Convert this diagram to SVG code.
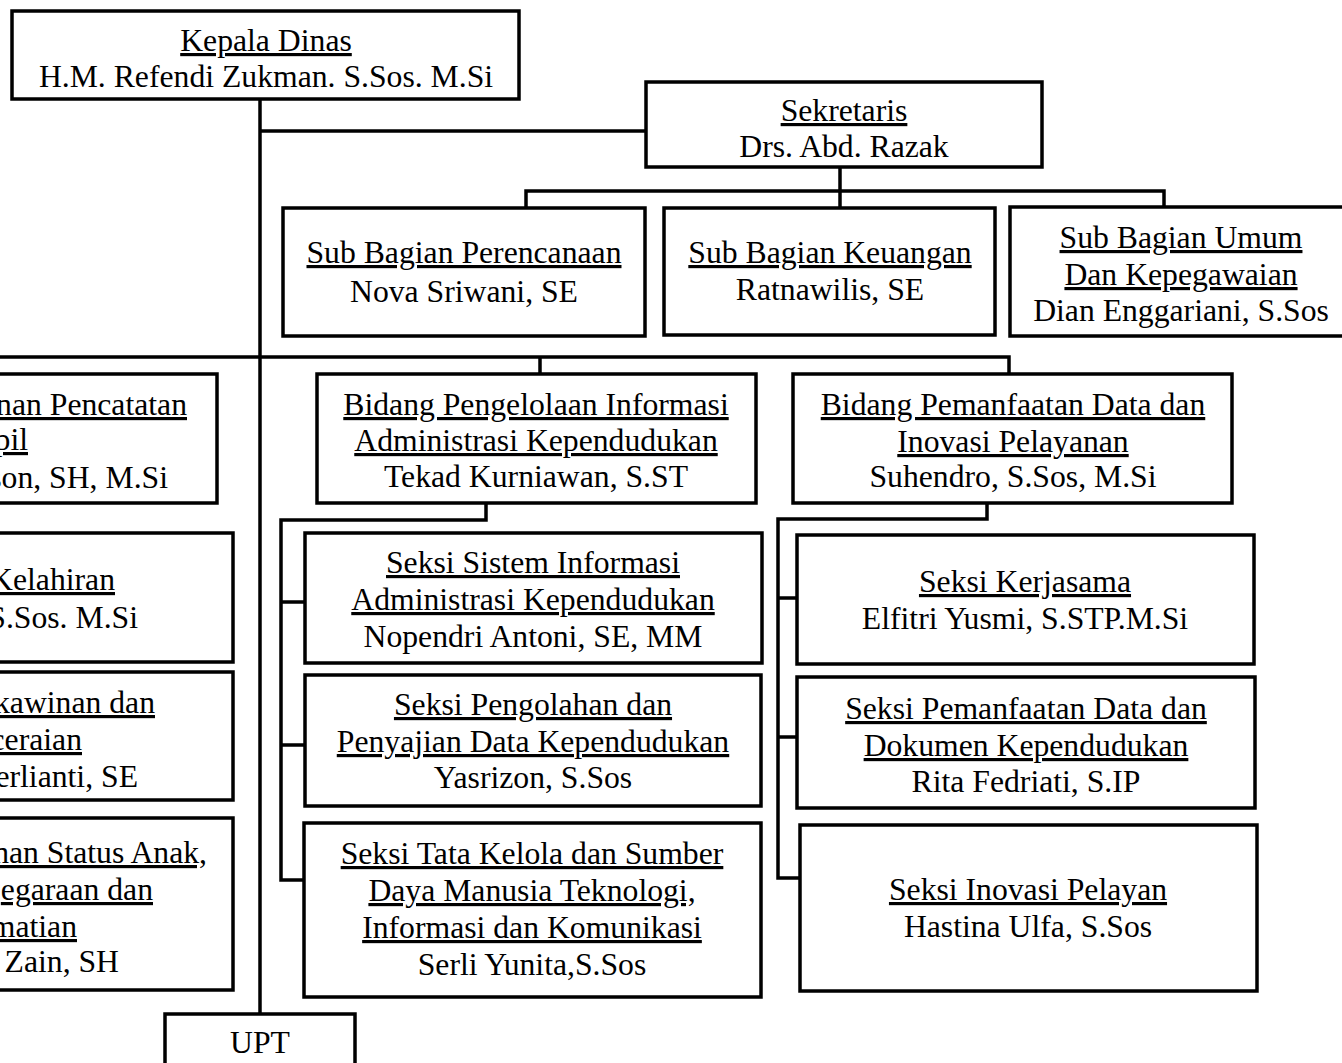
<svg xmlns="http://www.w3.org/2000/svg" width="1342" height="1063" viewBox="0 0 1342 1063">
<style>
.box{fill:#fff;stroke:#000;stroke-width:3.5}
.ln{fill:none;stroke:#000;stroke-width:3.5;stroke-linejoin:miter}
text{font-family:"Liberation Serif","Times New Roman",serif;font-size:31.7px;fill:#000}
.c{text-anchor:middle}
.e{text-anchor:end}
.u{text-decoration:underline}
</style>
<rect x="0" y="0" width="1342" height="1063" fill="#fff"/>
<g id="connectors">
<path class="ln" d="M260 99 V1014"/>
<path class="ln" d="M260 131 H646"/>
<path class="ln" d="M840 167 V208 M526 208 V191 H1164 V207"/>
<path class="ln" d="M0 357 H1009 V374 M540 357 V374"/>
<path class="ln" d="M486 503 V520 H281 V880 H304 M281 602 H305 M281 745 H305"/>
<path class="ln" d="M987 503 V519 H778 V878 H800 M778 598 H797 M778 737 H797"/>
</g>
<g id="kepala">
<rect class="box" x="12" y="11" width="507" height="88"/>
<text class="c u" x="266" y="51">Kepala Dinas</text>
<text class="c" x="266" y="87">H.M. Refendi Zukman. S.Sos. M.Si</text>
</g>
<g id="sekretaris">
<rect class="box" x="646" y="82" width="396" height="85"/>
<text class="c u" x="844" y="121">Sekretaris</text>
<text class="c" x="844" y="157">Drs. Abd. Razak</text>
</g>
<g id="sub-perencanaan">
<rect class="box" x="283" y="208" width="362" height="128"/>
<text class="c u" x="464" y="263">Sub Bagian Perencanaan</text>
<text class="c" x="464" y="302">Nova Sriwani, SE</text>
</g>
<g id="sub-keuangan">
<rect class="box" x="664" y="208" width="331" height="127"/>
<text class="c u" x="830" y="263">Sub Bagian Keuangan</text>
<text class="c" x="830" y="300">Ratnawilis, SE</text>
</g>
<g id="sub-umum">
<rect class="box" x="1010" y="207" width="340" height="129"/>
<text class="c u" x="1181" y="248">Sub Bagian Umum</text>
<text class="c u" x="1181" y="285">Dan Kepegawaian</text>
<text class="c" x="1181" y="321">Dian Enggariani, S.Sos</text>
</g>
<g id="bidang-pencatatan">
<rect class="box" x="-10" y="374" width="227" height="129"/>
<text class="e u" x="187" y="415">nan Pencatatan</text>
<text class="e u" x="28" y="450">pil</text>
<text class="e" x="168" y="488">son, SH, M.Si</text>
</g>
<g id="seksi-kelahiran">
<rect class="box" x="-10" y="533" width="243" height="129"/>
<text class="e u" x="115" y="590">Kelahiran</text>
<text class="e" x="138" y="628">S.Sos. M.Si</text>
</g>
<g id="seksi-perkawinan">
<rect class="box" x="-10" y="672" width="243" height="128"/>
<text class="e u" x="155" y="713">kawinan dan</text>
<text class="e u" x="82" y="750">ceraian</text>
<text class="e" x="138" y="787">erlianti, SE</text>
</g>
<g id="seksi-status-anak">
<rect class="box" x="-10" y="818" width="243" height="172"/>
<text class="e u" x="207" y="863">nan Status Anak,</text>
<text class="e u" x="153" y="900">egaraan dan</text>
<text class="e u" x="77" y="937">matian</text>
<text class="e" x="119" y="972">Zain, SH</text>
</g>
<g id="bidang-pengelolaan">
<rect class="box" x="317" y="374" width="439" height="129"/>
<text class="c u" x="536" y="415">Bidang Pengelolaan Informasi</text>
<text class="c u" x="536" y="451">Administrasi Kependudukan</text>
<text class="c" x="536" y="487">Tekad Kurniawan, S.ST</text>
</g>
<g id="bidang-pemanfaatan">
<rect class="box" x="793" y="374" width="439" height="129"/>
<text class="c u" x="1013" y="415">Bidang Pemanfaatan Data dan</text>
<text class="c u" x="1013" y="452">Inovasi Pelayanan</text>
<text class="c" x="1013" y="487">Suhendro, S.Sos, M.Si</text>
</g>
<g id="seksi-sistem">
<rect class="box" x="305" y="533" width="457" height="130"/>
<text class="c u" x="533" y="573">Seksi Sistem Informasi</text>
<text class="c u" x="533" y="610">Administrasi Kependudukan</text>
<text class="c" x="533" y="647">Nopendri Antoni, SE, MM</text>
</g>
<g id="seksi-pengolahan">
<rect class="box" x="305" y="675" width="456" height="131"/>
<text class="c u" x="533" y="715">Seksi Pengolahan dan</text>
<text class="c u" x="533" y="752">Penyajian Data Kependudukan</text>
<text class="c" x="533" y="788">Yasrizon, S.Sos</text>
</g>
<g id="seksi-tata-kelola">
<rect class="box" x="304" y="823" width="457" height="174"/>
<text class="c u" x="532" y="864">Seksi Tata Kelola dan Sumber</text>
<text class="c u" x="532" y="901">Daya Manusia Teknologi,</text>
<text class="c u" x="532" y="938">Informasi dan Komunikasi</text>
<text class="c" x="532" y="975">Serli Yunita,S.Sos</text>
</g>
<g id="seksi-kerjasama">
<rect class="box" x="797" y="535" width="457" height="129"/>
<text class="c u" x="1025" y="592">Seksi Kerjasama</text>
<text class="c" x="1025" y="629">Elfitri Yusmi, S.STP.M.Si</text>
</g>
<g id="seksi-pemanfaatan">
<rect class="box" x="797" y="677" width="458" height="131"/>
<text class="c u" x="1026" y="719">Seksi Pemanfaatan Data dan</text>
<text class="c u" x="1026" y="756">Dokumen Kependudukan</text>
<text class="c" x="1026" y="792">Rita Fedriati, S.IP</text>
</g>
<g id="seksi-inovasi">
<rect class="box" x="800" y="825" width="457" height="166"/>
<text class="c u" x="1028" y="900">Seksi Inovasi Pelayan</text>
<text class="c" x="1028" y="937">Hastina Ulfa, S.Sos</text>
</g>
<g id="upt">
<rect class="box" x="165" y="1014" width="190" height="60"/>
<text class="c" x="260" y="1053">UPT</text>
</g>
</svg>
